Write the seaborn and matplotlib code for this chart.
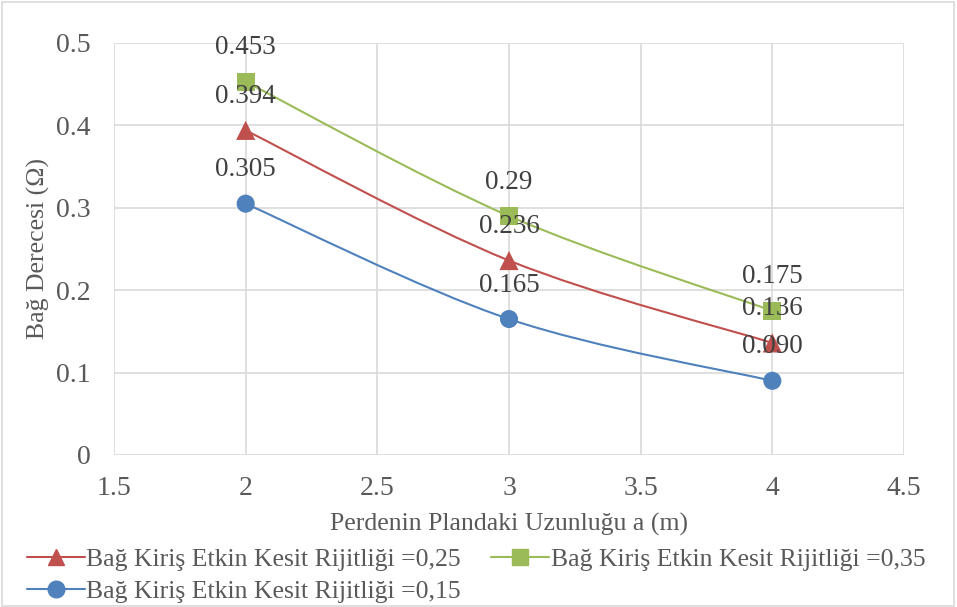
import numpy as np
import pandas as pd
import matplotlib
matplotlib.use("Agg")
import matplotlib.pyplot as plt
from matplotlib.path import Path
from matplotlib.patches import PathPatch, Rectangle
from matplotlib.lines import Line2D
import seaborn as sns

# === datos ===
uzunluk = [2, 3, 4]
rij_015 = [0.305, 0.165, 0.090]
rij_025 = [0.394, 0.236, 0.136]
rij_035 = [0.453, 0.290, 0.175]
etiket_015 = ["0.305", "0.165", "0.090"]
etiket_025 = ["0.394", "0.236", "0.136"]
etiket_035 = ["0.453", "0.29", "0.175"]
seriler = {"0,25": "Bağ Kiriş Etkin Kesit Rijitliği =0,25",
           "0,35": "Bağ Kiriş Etkin Kesit Rijitliği =0,35",
           "0,15": "Bağ Kiriş Etkin Kesit Rijitliği =0,15"}

sns.set_style("white")
plt.rcParams['font.family'] = ['Liberation Serif', 'DejaVu Serif']

fig = plt.figure(figsize=(9.57, 6.07), dpi=100)
ax = fig.add_axes([114/957, 1 - 455/607, (904 - 114)/957, (455 - 43)/607])

# borde exterior del gráfico
fig.patches.append(Rectangle((0.002, 0.002), 0.995, 0.995, transform=fig.transFigure,
                             fill=False, edgecolor="#d9d9d9", linewidth=1.2))


def curva_suave(ax, x, y, color):
    # Excel "smoothed line": Catmull-Rom -> Bezier
    pts = np.column_stack([x, y]).astype(float)
    n = len(pts)
    verts = [pts[0]]
    codes = [Path.MOVETO]
    for i in range(n - 1):
        p0 = pts[i - 1] if i > 0 else pts[i]
        p1, p2 = pts[i], pts[i + 1]
        p3 = pts[i + 2] if i + 2 < n else pts[i + 1]
        c1 = p1 + (p2 - p0) / 6
        c2 = p2 - (p3 - p1) / 6
        verts += [c1, c2, p2]
        codes += [Path.CURVE4] * 3
    ax.add_patch(PathPatch(Path(verts, codes), fill=False, edgecolor=color, lw=1.5, zorder=2))


colores = {"0,25": "#C0504D", "0,35": "#9BBB59", "0,15": "#4F81BD"}
marcas = {"0,25": "^", "0,35": "s", "0,15": "o"}
datos = {"0,25": (rij_025, etiket_025), "0,35": (rij_035, etiket_035), "0,15": (rij_015, etiket_015)}

for k in ["0,15", "0,25", "0,35"]:
    vals, etis = datos[k]
    curva_suave(ax, uzunluk, vals, colores[k])
    df = pd.DataFrame({"x": uzunluk, "y": vals})
    sns.scatterplot(data=df, x="x", y="y", marker=marcas[k], color=colores[k],
                    s=170 if k != "0,25" else 190, edgecolor="none", ax=ax, zorder=3)
    for xi, yi, t in zip(uzunluk, vals, etis):
        ax.annotate(t, (xi, yi), xytext=(0, 24.5), textcoords="offset points",
                    ha="center", va="center", fontsize=19.5, color="#404040", zorder=4)

ax.set_xlim(1.5, 4.5)
ax.set_ylim(0, 0.5)
ax.set_xticks(np.arange(1.5, 4.51, 0.5))
ax.set_yticks(np.arange(0, 0.51, 0.1))
ax.set_xticklabels(["1.5", "2", "2.5", "3", "3.5", "4", "4.5"])
ax.set_yticklabels(["0", "0.1", "0.2", "0.3", "0.4", "0.5"])
ax.grid(True, color="#d9d9d9", lw=1.2)
for s in ax.spines.values():
    s.set_visible(False)
ax.tick_params(axis="both", labelsize=20, colors="#595959", length=0)
ax.tick_params(axis="x", pad=15)
ax.tick_params(axis="y", pad=17)
ax.set_xlabel("Perdenin Plandaki Uzunluğu a (m)", fontsize=18.5, color="#595959", labelpad=9)
ax.set_ylabel("Bağ Derecesi (Ω)", fontsize=18.5, color="#595959", labelpad=4)

orden = ["0,25", "0,15", "0,35"]  # column-major fill -> rows: 0,25 | 0,35 / 0,15
handles = [Line2D([], [], color=colores[k], marker=marcas[k], markersize=12, lw=1.5)
           for k in orden]
leg = fig.legend(handles, [seriler[k] for k in orden], loc="lower left",
                 bbox_to_anchor=(0.012, -0.018), ncol=2,
                 frameon=False, fontsize=18.5, handlelength=2.25, handletextpad=0.05,
                 columnspacing=1.2, labelspacing=0.34, borderaxespad=0.2)
for t in leg.get_texts():
    t.set_color("#595959")

fig.savefig("out.png", dpi=100)
